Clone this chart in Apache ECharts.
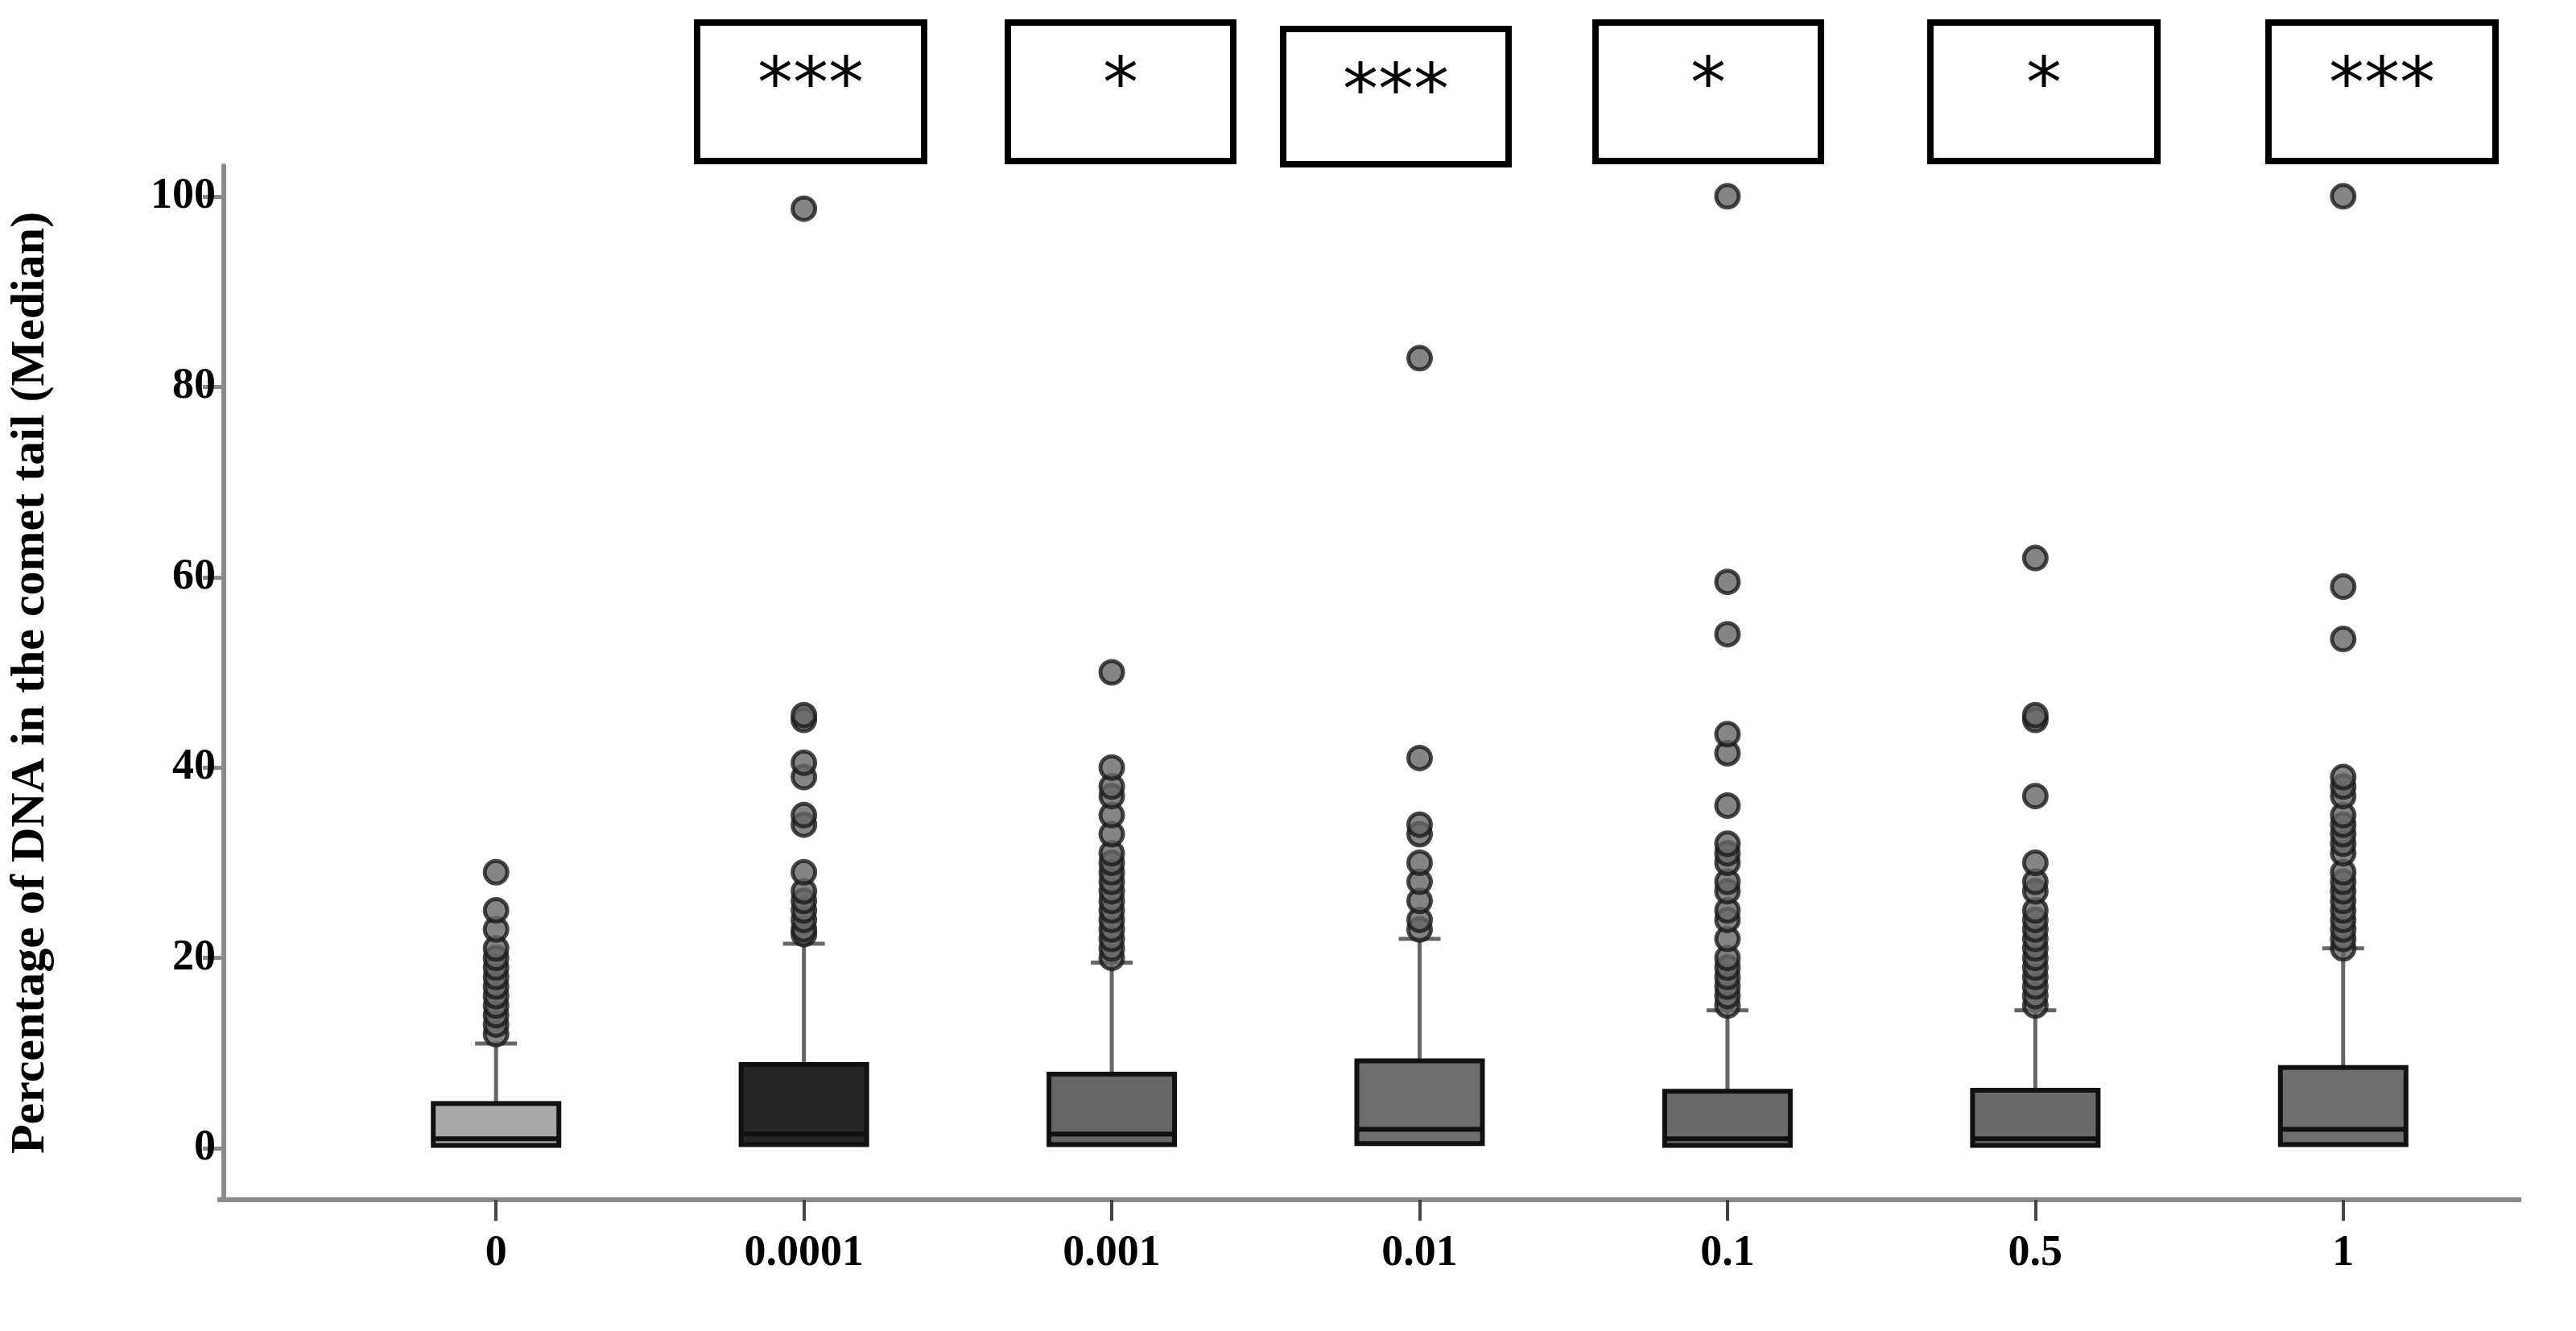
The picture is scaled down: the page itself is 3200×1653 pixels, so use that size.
<!DOCTYPE html>
<html><head><meta charset="utf-8">
<script src="https://cdn.jsdelivr.net/npm/echarts@6/dist/echarts.min.js"></script>
<style>html,body{margin:0;padding:0;background:#fff}#c{width:3200px;height:1653px}</style>
</head><body><div id="c"></div>
<script>
const categories = ['0','0.0001','0.001','0.01','0.1','0.5','1'];
// [min, Q1, median, Q3, whisker max]
const boxStats = [
  [0.2, 0.3, 1.0, 4.7, 11],
  [0.2, 0.4, 1.5, 8.8, 21.5],
  [0.2, 0.4, 1.5, 7.8, 19.5],
  [0.2, 0.5, 2.0, 9.2, 22],
  [0.2, 0.3, 1.0, 6.0, 14.5],
  [0.2, 0.3, 1.0, 6.1, 14.5],
  [0.2, 0.4, 2.0, 8.5, 21]
];
const boxColors = ['#a9a9a9','#262626','#666666','#6e6e6e','#6a6a6a','#6a6a6a','#6e6e6e'];
const outliers0 = [12,13,14,15,16,17,18,19,20,21,23,25,29];
const outliers1 = [22.5,23,24,25,26,27,29,34,35,39,40.5,45,45.5,98.7];
const outliers2 = [20,21,22,23,24,25,26,27,28,29,30,31,33,35,37,38,40,50];
const outliers3 = [23,24,26,28,30,33,34,41,83];
const outliers4 = [15,16,17,18,19,20,22,24,25,27,28,30,31,32,36,41.5,43.5,54,59.5,100];
const outliers5 = [15,16,17,18,19,20,21,22,23,24,25,27,28,30,37,45,45.5,62];
const outliers6 = [21,22,23,24,25,26,27,28,29,31,32,33,34,35,37,38,39,53.5,59,100];
const outlierSets = [outliers0,outliers1,outliers2,outliers3,outliers4,outliers5,outliers6];
const sigLabels = ['***','*','***','*','*','***'];
const yTicks = [0,20,40,60,80,100];

const scatterData = [];
outlierSets.forEach((arr,i)=>arr.forEach(v=>scatterData.push([i,v])));
const font = 'Liberation Serif';

const sigBoxes = [[866,28,282,172],[1252,28,280,172],[1594,36,280,168],[1982,28,280,172],[2398,28,282,172],[2818,28,282,172]];
const graphics = [];
sigBoxes.forEach((b,i)=>{
  graphics.push({type:'rect',shape:{x:b[0],y:b[1],width:b[2],height:b[3]},style:{fill:'#fff',stroke:'#000',lineWidth:8}});
  graphics.push({type:'text',x:b[0]+b[2]/2,y:b[1]+38,style:{text:sigLabels[i],font:'88px "DejaVu Sans"',fill:'#000',textAlign:'center',textVerticalAlign:'top'}});
});
graphics.push({type:'line',shape:{x1:270,y1:1490,x2:3132,y2:1490},style:{stroke:'#8a8a8a',lineWidth:6}});

const chart = echarts.init(document.getElementById('c'));
chart.setOption({
  animation:false,
  grid:{left:417,right:98,top:206,bottom:163},
  xAxis:{type:'category',data:categories,boundaryGap:true,
    axisLine:{show:false,onZero:false},
    axisTick:{show:true,alignWithLabel:true,length:26,lineStyle:{color:'#444',width:4}},
    axisLabel:{fontFamily:font,fontWeight:'bold',fontSize:54,color:'#000',margin:40}},
  yAxis:{type:'value',min:-5.4,max:103.2,offset:147,
    axisLine:{show:true,lineStyle:{color:'#8a8a8a',width:6}},
    axisTick:{show:true,customValues:yTicks,length:26,lineStyle:{color:'#8a8a8a',width:5}},
    axisLabel:{customValues:yTicks,fontFamily:font,fontWeight:'bold',fontSize:54,color:'#000',margin:10},
    splitLine:{show:false},
    name:'Percentage of DNA in the comet tail (Median)',nameLocation:'middle',nameGap:210,
    nameTextStyle:{fontFamily:font,fontWeight:'bold',fontSize:60,color:'#000'}},
  series:[
    {type:'custom',data:boxStats.map((s,i)=>[i].concat(s)),
     encode:{x:0,y:[1,2,3,4,5]},
     renderItem:function(params,api){
       const i=api.value(0);
       const p=k=>api.coord([i,api.value(k)]);
       const lo=p(1),q1=p(2),med=p(3),q3=p(4),hi=p(5);
       const x=lo[0],w=156,cw=26;
       return {type:'group',children:[
         {type:'line',shape:{x1:x,y1:q3[1],x2:x,y2:hi[1]},style:{stroke:'#666',lineWidth:5}},
         {type:'line',shape:{x1:x-cw,y1:hi[1],x2:x+cw,y2:hi[1]},style:{stroke:'#666',lineWidth:5}},
         {type:'rect',shape:{x:x-w/2,y:q3[1],width:w,height:q1[1]-q3[1]},style:{fill:boxColors[i],stroke:'#111',lineWidth:6}},
         {type:'line',shape:{x1:x-w/2,y1:med[1],x2:x+w/2,y2:med[1]},style:{stroke:'#111',lineWidth:6}}
       ]};
     },z:2},
    {type:'scatter',data:scatterData,symbolSize:28,
     itemStyle:{color:'#666',borderColor:'#1a1a1a',borderWidth:5},z:3}
  ],
  graphic:graphics
});
</script></body></html>
